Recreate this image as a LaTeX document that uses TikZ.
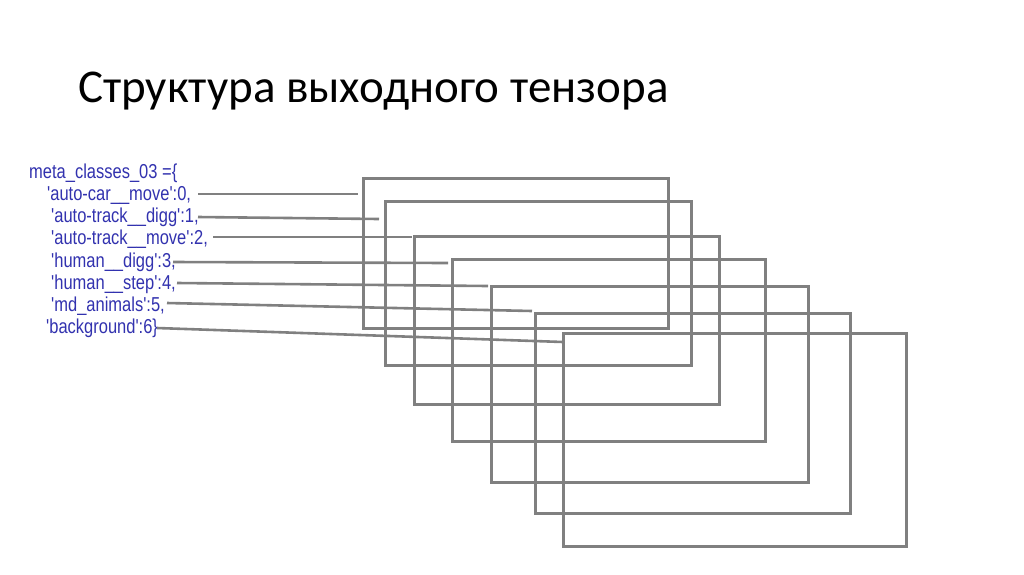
\documentclass[tikz,border=0pt]{standalone}
\usepackage{fontspec}
\setmainfont{Liberation Sans}
\newfontfamily\titlefont{Carlito}
\definecolor{codeblue}{RGB}{50,50,175}
\definecolor{framegray}{RGB}{128,128,128}
\newcommand{\q}{\textquotesingle}
\newcommand{\tallcode}[1]{\scalebox{1}[1.22]{#1}}
\begin{document}
\begin{tikzpicture}[x=1pt,y=-1pt,
  lbl/.style={anchor=base west,inner sep=0pt,text=codeblue,font=\fontsize{16.5}{20}\selectfont},
  frame/.style={draw=framegray,line width=3pt},
  link/.style={draw=framegray,line width=2.6pt}]
\useasboundingbox[fill=white] (0,0) rectangle (1024,574);
\node[anchor=base west,inner sep=0pt,font=\titlefont\fontsize{47}{56}\selectfont] (title) at (78,102) {Структура выходного тензора};
% frames
\draw[frame] (363,178) rectangle (668,328); \coordinate (f0) at (358,194);
\draw[frame] (385,201) rectangle (691,365); \coordinate (f1) at (379,219);
\draw[frame] (414,236) rectangle (719,404); \coordinate (f2) at (412,237);
\draw[frame] (452,259) rectangle (765,441); \coordinate (f3) at (448,263);
\draw[frame] (491,286) rectangle (808,482); \coordinate (f4) at (488,286);
\draw[frame] (535,313) rectangle (850,513); \coordinate (f5) at (532,311);
\draw[frame] (563,333) rectangle (906,546); \coordinate (f6) at (563,342);
% labels
\node[lbl] (m) at (29,178) {\tallcode{meta\_classes\_03 =\{}};
\node[lbl] (l0) at (47,200) {\tallcode{\q auto-car\_\_move\q:0,}};
\node[lbl] (l1) at (51,222) {\tallcode{\q auto-track\_\_digg\q:1,}};
\node[lbl] (l2) at (51,244) {\tallcode{\q auto-track\_\_move\q:2,}};
\node[lbl] (l3) at (51,267) {\tallcode{\q human\_\_digg\q:3,}};
\node[lbl] (l4) at (51,289) {\tallcode{\q human\_\_step\q:4,}};
\node[lbl] (l5) at (51,311) {\tallcode{\q md\_animals\q:5,}};
\node[lbl] (l6) at (46,333) {\tallcode{\q background\q:6\}}};
% connectors
\coordinate (s0) at (198,194);
\coordinate (s1) at (198,217);
\coordinate (s2) at (213,237);
\coordinate (s3) at (173,262);
\coordinate (s4) at (177,283);
\coordinate (s5) at (167,303);
\coordinate (s6) at (157,328);
\foreach \i in {0,...,6} {\draw[link] (s\i) -- (f\i);}
\end{tikzpicture}
\end{document}
